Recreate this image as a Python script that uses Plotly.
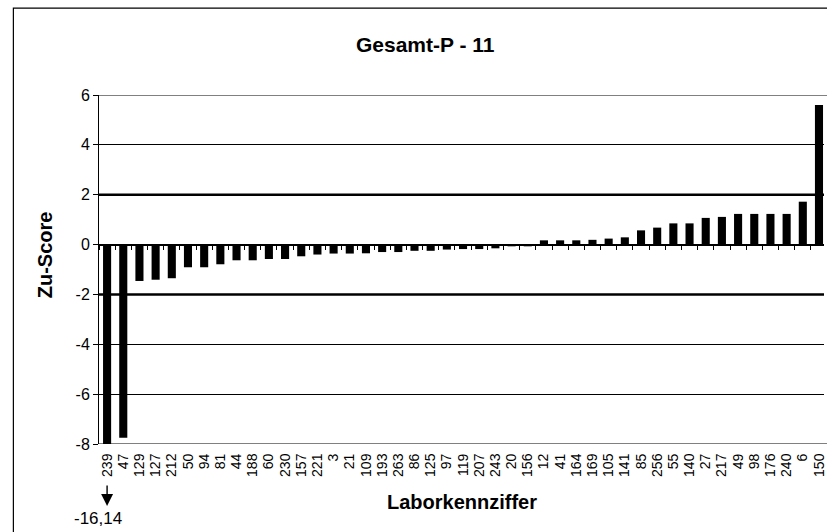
import plotly.graph_objects as go

# Laborkennziffern, sorted by Zu-Score
labs = ["239", "47", "129", "127", "212", "50", "94", "81", "44", "188",
        "60", "230", "157", "221", "3", "21", "109", "193", "263", "86",
        "125", "97", "119", "207", "243", "20", "156", "12", "41", "164",
        "169", "105", "141", "85", "256", "55", "140", "27", "217", "49",
        "98", "176", "240", "6", "150"]
scores = [-16.14, -7.75, -1.46, -1.41, -1.35, -0.91, -0.91, -0.79, -0.63, -0.63,
          -0.58, -0.58, -0.47, -0.40, -0.36, -0.36, -0.35, -0.30, -0.30, -0.25,
          -0.25, -0.20, -0.18, -0.18, -0.15, -0.07, -0.07, 0.17, 0.17, 0.17,
          0.19, 0.24, 0.29, 0.57, 0.68, 0.85, 0.85, 1.07, 1.11, 1.23,
          1.23, 1.23, 1.23, 1.72, 5.60]
limits = [2, -2]
y_ticks = [-8, -6, -4, -2, 0, 2, 4, 6]
y_min, y_max = -8, 6

FONT = "Arial, Liberation Sans, sans-serif"

x_idx = list(range(len(labs)))
# bars below the axis minimum are cut at the axis, the real value is noted below
shown = [max(v, y_min) for v in scores]

fig = go.Figure()
fig.add_trace(go.Bar(
    x=x_idx, y=shown, marker=dict(color="black", line=dict(width=0)),
    width=0.5, showlegend=False,
))

# second x axis only for the category tick marks on the zero line
fig.add_trace(go.Scatter(x=[], y=[], xaxis="x2", showlegend=False))

for lim in limits:
    fig.add_shape(type="line", xref="paper", yref="y", x0=0, x1=1,
                  y0=lim, y1=lim, line=dict(color="black", width=2.5))

# plot-area border (top and bottom grey)
for yv in [y_min, y_max]:
    fig.add_shape(type="line", xref="paper", yref="y", x0=0, x1=1.02,
                  y0=yv, y1=yv, line=dict(color="#808080", width=2), layer="below")

# outer chart border
fig.add_shape(type="rect", xref="paper", yref="paper",
              x0=-0.1181, x1=1.05, y0=-0.26, y1=1.249,
              line=dict(color="black", width=1.2))


def px_x(p):
    return (p - 99) / 728


def px_y(p):
    return (444 - p) / 349


def label(text, x, y, size, angle=0):
    return dict(text=text, xref="paper", yref="paper", x=px_x(x), y=px_y(y),
                xanchor="center", yanchor="middle", showarrow=False,
                textangle=angle, font=dict(size=size))


xr = [-0.5, 44.31]
fig.update_layout(
    width=827, height=532,
    margin=dict(l=99, r=0, t=95, b=88),
    paper_bgcolor="white", plot_bgcolor="white",
    font=dict(family=FONT, color="black"),
    bargap=0.5,
    xaxis=dict(
        range=xr, tickmode="array", tickvals=x_idx, ticktext=labs,
        tickangle=-90, tickfont=dict(size=14), ticks="outside", ticklen=3,
        tickcolor="rgba(0,0,0,0)", ticklabeloverflow="allow",
        showgrid=False, showline=False, zeroline=False,
    ),
    xaxis2=dict(
        range=xr, overlaying="x", anchor="free",
        position=(0 - y_min) / (y_max - y_min),
        tickmode="array", tickvals=[i - 0.5 for i in x_idx] + [len(labs) - 0.5],
        ticks="outside", ticklen=4, tickcolor="black", tickwidth=1,
        showticklabels=False, showline=True, linecolor="black", linewidth=1,
        showgrid=False, zeroline=False,
    ),
    yaxis=dict(
        range=[y_min, y_max], tickmode="array", tickvals=y_ticks,
        ticktext=[str(v) for v in y_ticks],
        tickfont=dict(size=16), ticks="outside", ticklen=5, tickcolor="black",
        showline=True, linecolor="black", linewidth=1,
        showgrid=True, gridcolor="black", gridwidth=1, zeroline=False,
    ),
    annotations=[
        label("<b>Gesamt-P - 11</b>", 427, 44, 21),
        label("<b>Zu-Score</b>", 45, 255, 20, -90),
        label("<b>Laborkennziffer</b>", 464, 502, 20),
        dict(text="", x=0, xref="x", yref="paper", y=px_y(506),
             showarrow=True, ax=0, ay=-22, arrowhead=2, arrowsize=1.7,
             arrowwidth=1.4, arrowcolor="black"),
        label(f"{scores[0]:.2f}".replace(".", ","), 98, 518, 17),
    ],
)

# the page body default margin would push the chart 8px off the window
fig.write_html("out.html", config={"displayModeBar": False},
               post_script="document.body.style.margin='0';"
                           "document.body.style.overflow='hidden';")
